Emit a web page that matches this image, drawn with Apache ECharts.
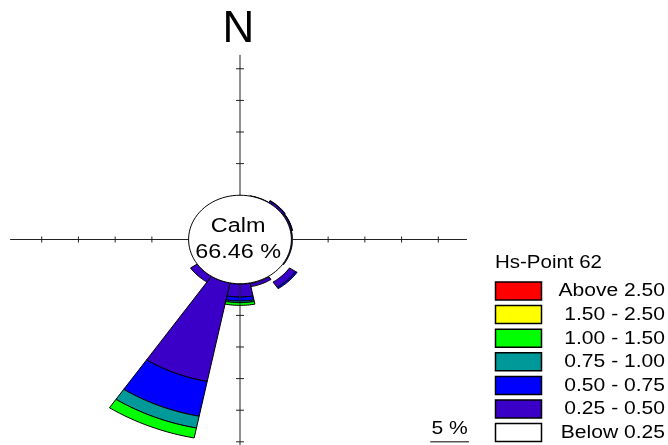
<!DOCTYPE html>
<html><head><meta charset="utf-8">
<script src="https://cdn.jsdelivr.net/npm/echarts@6/dist/echarts.min.js"></script>
<style>html,body{margin:0;padding:0;background:#fff}#c{width:668px;height:445px}</style>
</head><body><div id="c"></div><script>
// ---- data ----
const directions = ['N','NNE','NE','ENE','E','ESE','SE','SSE','S','SSW','SW','WSW','W','WNW','NW','NNW'];
const binLabels = ['Below 0.25','0.25 - 0.50','0.50 - 0.75','0.75 - 1.00','1.00 - 1.50','1.50 - 2.50','Above 2.50'];
const below025  = [0, 0,    0.02, 0.02, 0.02, 0.02, 1.10, 0.10, 0.05, 0,    0,    0,0,0,0,0];
const hs025_050 = [0, 0.05, 0.30, 0.22, 0.12, 0.12, 1.00, 0.50, 2.05, 15.9, 1.10, 0,0,0,0,0];
const hs050_075 = [0, 0,    0.08, 0.05, 0,    0,    0.25, 0,    0.64, 5.60, 0,    0,0,0,0,0];
const hs075_100 = [0, 0,    0,    0,    0,    0,    0,    0,    0.25, 1.90, 0,    0,0,0,0,0];
const hs100_150 = [0, 0,    0,    0,    0,    0,    0,    0,    0.43, 1.60, 0,    0,0,0,0,0];
const hs150_250 = [0, 0,    0,    0,    0,    0,    0,    0,    0,    0,    0,    0,0,0,0,0];
const above250  = [0, 0,    0,    0,    0,    0,    0,    0,    0,    0,    0,    0,0,0,0,0];
const calmPercent = 66.46;
const legendTitle = 'Hs-Point 62';
const ringStep = 5;          // % between ticks
const scaleBarLabel = '5 %';

// ---- styling / layout ----
const bins = [below025, hs025_050, hs050_075, hs075_100, hs100_150, hs150_250, above250];
const binColors = ['#ffffff','#3a00c8','#0000ff','#009999','#00ff00','#ffff00','#ff0000'];
const R0 = 7;                // calm circle radius in % units
const FONT = '"Liberation Sans", Arial, sans-serif';
const SX = 1.17;             // horizontal stretch of text

const cum = directions.map(() => R0);
const series = [];
bins.forEach((vals, b) => {
  const data = [];
  vals.forEach((v, i) => {
    if (v > 0) { data.push([i, cum[i], cum[i] + v]); cum[i] += v; }
  });
  const color = binColors[b];
  series.push({
    type: 'custom', name: binLabels[b], coordinateSystem: 'cartesian2d', z: 2,
    silent: true, animation: false, data: data,
    renderItem: function (params, api) {
      const d = api.value(0), r0 = api.value(1), r1 = api.value(2);
      const c = d * 22.5 * Math.PI / 180, h = 11.25 * Math.PI / 180, n = 16;
      const pts = [];
      for (let k = 0; k <= n; k++) { const a = c - h + 2 * h * k / n; pts.push(api.coord([r1 * Math.sin(a), r1 * Math.cos(a)])); }
      for (let k = n; k >= 0; k--) { const a = c - h + 2 * h * k / n; pts.push(api.coord([r0 * Math.sin(a), r0 * Math.cos(a)])); }
      return { type: 'polygon', shape: { points: pts },
        style: b === 0 ? { fill: color, stroke: null } : { fill: color, stroke: '#000', lineWidth: 1 } };
    }
  });
});

// axes cross with ticks
const arms = [ // [dx, dy, length(%), ticks]
  [1, 0, 30.9, 4], [-1, 0, 31.3, 4], [0, 1, 29.2, 4], [0, -1, 33, 5]
];
series.push({
  type: 'custom', coordinateSystem: 'cartesian2d', z: 3, silent: true, animation: false,
  data: [[0, 0, 0]],
  renderItem: function (params, api) {
    const children = [];
    arms.forEach(a => {
      const p0 = api.coord([0, 0]), p1 = api.coord([a[0] * a[2], a[1] * a[2]]);
      children.push({ type: 'line', shape: { x1: p0[0], y1: p0[1], x2: p1[0], y2: p1[1] }, style: { stroke: '#222', lineWidth: 1 } });
      for (let k = 1; k <= a[3]; k++) {
        const r = R0 + k * ringStep, p = api.coord([a[0] * r, a[1] * r]);
        if (a[0] !== 0) children.push({ type: 'line', shape: { x1: p[0], y1: p[1] - 3, x2: p[0], y2: p[1] + 3 }, style: { stroke: '#222', lineWidth: 1 } });
        else children.push({ type: 'line', shape: { x1: p[0] - 4, y1: p[1], x2: p[0] + 4, y2: p[1] }, style: { stroke: '#222', lineWidth: 1 } });
      }
    });
    // scale bar (one ring step)
    const s0 = api.coord([25.9, -32.0]), s1 = api.coord([25.9 + ringStep, -32.0]);
    children.push({ type: 'line', shape: { x1: s0[0], y1: s0[1], x2: s1[0] + 2, y2: s1[1] }, style: { stroke: '#000', lineWidth: 1 } });
    children.push({ type: 'text', x: (s0[0] + s1[0]) / 2 + 1, y: s0[1] - 13, scaleX: SX,
      style: { text: scaleBarLabel, x: 0, y: 0, align: 'center', verticalAlign: 'middle', font: '18px ' + FONT, fill: '#000' } });
    return { type: 'group', children: children };
  }
});

// calm circle
series.push({
  type: 'custom', coordinateSystem: 'cartesian2d', z: 4, silent: true, animation: false,
  data: [[0, 0, calmPercent]],
  renderItem: function (params, api) {
    const pts = [];
    for (let k = 0; k < 90; k++) { const a = k / 90 * 2 * Math.PI; pts.push(api.coord([R0 * Math.sin(a), R0 * Math.cos(a)])); }
    const c1 = api.coord([-0.25, 2.05]), c2 = api.coord([-0.25, -2.05]);
    return { type: 'group', children: [
      { type: 'polygon', shape: { points: pts }, style: { fill: '#fff', stroke: '#000', lineWidth: 1 } },
      { type: 'text', x: c1[0], y: c1[1], scaleX: SX, style: { text: 'Calm', x: 0, y: 0, align: 'center', verticalAlign: 'middle', font: '20px ' + FONT, fill: '#000' } },
      { type: 'text', x: c2[0], y: c2[1], scaleX: SX, style: { text: api.value(2).toFixed(2) + ' %', x: 0, y: 0, align: 'center', verticalAlign: 'middle', font: '20px ' + FONT, fill: '#000' } }
    ] };
  }
});

// legend (top to bottom: highest bin first)
const graphic = [
  { type: 'text', x: 238.5, y: 30, style: { text: 'N', align: 'center', verticalAlign: 'middle', font: '44px ' + FONT, fill: '#000' } },
  { type: 'text', x: 495, y: 263, scaleX: SX, style: { text: legendTitle, x: 0, y: 0, align: 'left', verticalAlign: 'middle', font: '17.5px ' + FONT, fill: '#000' } }
];
for (let j = 0; j < bins.length; j++) {
  const b = bins.length - 1 - j, top = 282 + j * 23.6;
  graphic.push({ type: 'rect', shape: { x: 495.5, y: top, width: 46, height: 18 }, style: { fill: binColors[b], stroke: '#000', lineWidth: 1.5 } });
  graphic.push({ type: 'text', x: 665, y: top + 9.5, scaleX: SX, style: { text: binLabels[b], x: 0, y: 0, align: 'right', verticalAlign: 'middle', font: '18px ' + FONT, fill: '#000' } });
}

const chart = echarts.init(document.getElementById('c'), null, { renderer: 'canvas' });
chart.setOption({
  backgroundColor: '#fff',
  animation: false,
  grid: { left: 5, top: 34, width: 470, height: 412 },
  xAxis: { type: 'value', min: -32, max: 32, show: false, splitLine: { show: false } },
  yAxis: { type: 'value', min: -32.5, max: 32.5, show: false, splitLine: { show: false } },
  graphic: graphic,
  series: series
});
</script></body></html>
